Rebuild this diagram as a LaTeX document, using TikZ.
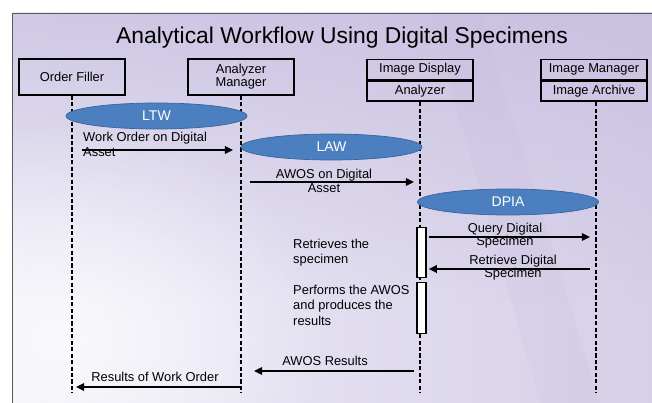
\documentclass[tikz,border=0pt]{standalone}
\usepackage{fontspec}
\setmainfont{Liberation Sans}
\usetikzlibrary{arrows.meta,fadings,shapes.geometric}

\definecolor{bgLeft}{HTML}{EEEDF7}
\definecolor{bgRight}{HTML}{D6CFE8}
\definecolor{bgTop}{HTML}{C6BCDF}
\definecolor{ovalFill}{HTML}{4C7FBF}
\definecolor{ovalLine}{HTML}{3A659C}
\definecolor{frameLine}{HTML}{5A5A5A}

% radial glow: opaque centre, transparent rim
\tikzfading[name=softglow, inner color=transparent!0, outer color=transparent!100]

\begin{document}
\begin{tikzpicture}[x=0.03cm,y=-0.03cm,
  txt/.style={font=\fontsize{11}{13}\selectfont, inner sep=0pt},
  actor/.style={draw=black, line width=1.5pt, minimum width=3.18cm,
    minimum height=1.08cm, align=center, txt},
  actorpart/.style={draw=black, line width=1.5pt, minimum width=3.18cm,
    minimum height=0.6cm, align=center, txt},
  lifeline/.style={draw=black, line width=1.4pt, dash pattern=on 3.5pt off 2pt},
  oval/.style={ellipse, fill=ovalFill, draw=ovalLine, line width=0.6pt,
    minimum width=5.43cm, minimum height=0.78cm, text=white,
    font=\fontsize{12}{14}\selectfont},
  msg/.style={draw=black, line width=1.4pt,
    -{Triangle[length=7pt,width=6.5pt]}},
  activation/.style={draw=black, fill=white, line width=1.1pt,
    minimum width=0.27cm, inner sep=0pt},
  note/.style={txt, align=left},
  msglbl/.style={txt, align=center}]

\useasboundingbox (0,0) rectangle (652,403);
\begin{scope}
\clip (0,0) rectangle (652,403);

% slide background
\fill[white] (0,0) rectangle (652,403);
\fill[left color=bgLeft, right color=bgRight] (12,13) rectangle (660,410);
\fill[bgTop, path fading=south, opacity=0.75] (12,13) rectangle (660,300);
\fill[white, opacity=0.7, path fading=softglow] (-200,120) rectangle (330,560);
\fill[bgTop, opacity=0.2] (430,13) -- (480,13) -- (600,403) -- (540,403) -- cycle;
\draw[frameLine, line width=0.8pt] (12,13) rectangle (670,420);

% title
\node[font=\fontsize{19.5}{22}\selectfont] (title) at (342,38)
  {Analytical Workflow Using Digital Specimens};

% participants
\node[actor] (filler) at (72,77) {Order Filler};
\node[actor] (amgr) at (241,77) {Analyzer\\[-2pt]Manager};
\node[actorpart] (disp) at (420,69.5) {Image Display};
\node[actorpart, anchor=north] (anal) at (disp.south) {Analyzer};
\node[actorpart] (imgr) at (594,69.5) {Image Manager};
\node[actorpart, anchor=north] (arch) at (imgr.south) {Image Archive};

% lifeline ends
\coordinate (fillerEnd) at (72,393);
\coordinate (amgrEnd) at (241,393);
\coordinate (analEnd) at (420,393);
\coordinate (archEnd) at (596,393);

\draw[lifeline] (filler.south) -- (fillerEnd);
\draw[lifeline] (amgr.south) -- (amgrEnd);
\draw[lifeline] (anal.south) -- (analEnd);
\draw[lifeline] (arch.south -| archEnd) -- (archEnd);

% transactions
\node[oval] (ltw) at (156.5,116) {LTW};
\node[oval] (law) at (331.5,147) {LAW};
\node[oval] (dpia) at (508,202) {DPIA};

% activations on the analyzer
\node[activation, minimum height=1.5cm, anchor=north] (act1) at (421.5,227) {};
\node[activation, minimum height=1.53cm, anchor=north] (act2) at (421.5,282) {};

% message ends
\coordinate (woFrom) at (82,150);
\coordinate (woTo) at (233,150);
\coordinate (awFrom) at (250,182);
\coordinate (awTo) at (414,182);
\coordinate (qTo) at (590,237);
\coordinate (rFrom) at (590,269);
\coordinate (resFrom) at (414,371);
\coordinate (resTo) at (254,371);
\coordinate (woResFrom) at (240,387);
\coordinate (woResTo) at (76,387);

% messages
\draw[msg] (woFrom) -- (woTo);
\draw[msg] (awFrom) -- (awTo);
\draw[msg] (act1.east |- qTo) ++(2,0) -- (qTo);
\draw[msg] (rFrom) -- ([xshift=0.06cm]act1.east |- rFrom);
\draw[msg] (resFrom) -- (resTo);
\draw[msg] (woResFrom) -- (woResTo);

% message labels
\node[note, anchor=north west] (woLbl) at (83,132) {Work Order on Digital\\Asset};
\node[msglbl] (awLbl) at (324,180.5) {AWOS on Digital\\[-1pt]Asset};
\node[msglbl] (qLbl) at (505,235.5) {Query Digital\\[-2pt]Specimen};
\node[msglbl] (rLbl) at (513,267.5) {Retrieve Digital\\[-2pt]Specimen};
\node[txt] (resLbl) at (325,361) {AWOS Results};
\node[txt] (woResLbl) at (155,377) {Results of Work Order};

% notes on the activations
\node[note, anchor=north west] (retr) at (293,239) {Retrieves the\\specimen};
\node[note, anchor=north west] (perf) at (293,285) {Performs the AWOS\\and produces the\\results};
\end{scope}
\end{tikzpicture}
\end{document}
